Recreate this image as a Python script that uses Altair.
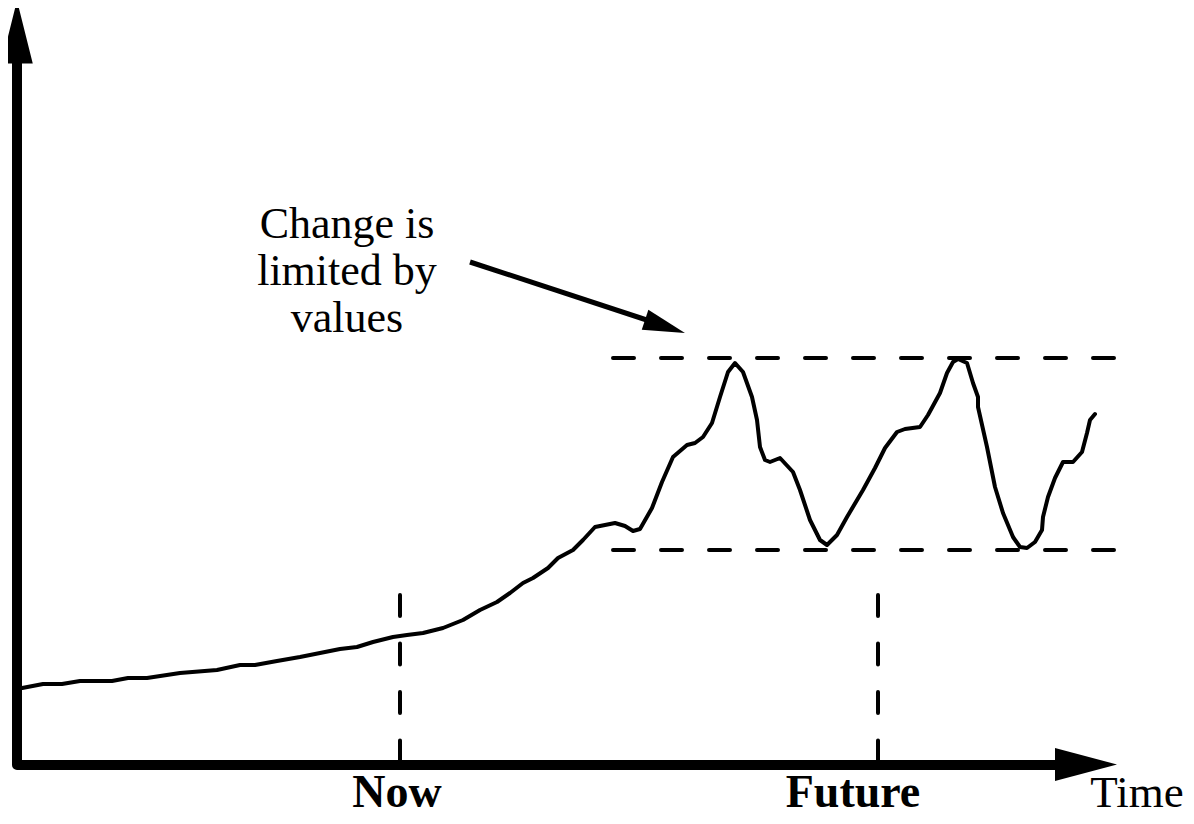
import altair as alt
import pandas as pd

# ---- data (time units / value units from the origin) ----
curve_t = [0, 26, 45, 63, 95, 111, 130, 163, 200, 223, 238, 260, 283, 303, 323, 340,
           356, 376, 390, 406, 426, 446, 463, 480, 493, 506, 516, 531, 541, 556, 566,
           578, 598, 608, 616, 623, 635, 645, 656, 670, 678, 686, 695, 703, 711, 718,
           726, 735, 740, 743, 748, 753, 763, 776, 783, 793, 803, 810, 820, 830, 846,
           858, 868, 880, 888, 903, 911, 923, 930, 936, 941, 950, 956, 961, 961, 970,
           978, 986, 996, 1003, 1010, 1018, 1025, 1026, 1031, 1038, 1046, 1056, 1065,
           1070, 1073, 1078]
curve_v = [76, 81, 81, 84, 84, 87, 87, 92, 95, 100, 100, 104, 108, 112, 116, 118,
           123, 128, 130, 132, 137, 145, 155, 163, 172, 182, 187, 197, 207, 215, 225,
           238, 242, 239, 234, 236, 257, 283, 308, 320, 322, 328, 342, 368, 393, 402,
           393, 368, 345, 318, 305, 303, 307, 293, 275, 245, 225, 220, 230, 248, 275,
           297, 317, 333, 336, 338, 350, 372, 392, 403, 406, 402, 382, 368, 358, 318,
           278, 252, 228, 218, 217, 223, 235, 248, 268, 287, 303, 303, 313,
           332, 345, 351]

limit_values = [407, 215]          # upper and lower value limits
limit_span = [596, 1101]           # time span of the limit lines
marker_times = [383, 861]          # "Now" and "Future"
marker_labels = ["Now", "Future"]
marker_label_t = [380, 836]
marker_label_v = [-42, -42]
marker_height = 170
axis_t_end = 1040
axis_v_end = 705
time_label = "Time"
note_lines = "Change is\nlimited by\nvalues"
note_arrow_t = [453, 648]
note_arrow_v = [503, 439]

XS = alt.Scale(domain=[-9, 1169], nice=False, zero=False)
YS = alt.Scale(domain=[-51, 757], nice=False, zero=False)
FONT = "Liberation Serif"


def X(f="t"):
    return alt.X(f"{f}:Q", scale=XS, axis=None)


def Y(f="v"):
    return alt.Y(f"{f}:Q", scale=YS, axis=None)


curve_df = pd.DataFrame({"t": curve_t, "v": curve_v, "i": range(len(curve_t))})
curve = alt.Chart(curve_df).mark_line(
    color="black", strokeWidth=4, strokeJoin="round", strokeCap="round"
).encode(x=X(), y=Y(), order="i:O")

axes_df = pd.DataFrame({"t": [0, 0, axis_t_end], "v": [axis_v_end, 0, 0], "i": [0, 1, 2]})
axes = alt.Chart(axes_df).mark_line(
    color="black", strokeWidth=10, strokeJoin="round", strokeCap="butt"
).encode(x=X(), y=Y(), order="i:O")

yhead = alt.Chart(pd.DataFrame({"t": [0], "v": [733]})).mark_point(
    shape="M0,-1L0.5,1L-0.5,1Z", size=3969, filled=True, fill="black",
    strokeWidth=0, opacity=1
).encode(x=X(), y=Y())

xhead = alt.Chart(pd.DataFrame({"t": [1069], "v": [0.5]})).mark_point(
    shape="M1,0L-1,0.53L-1,-0.53Z", size=3844, filled=True, fill="black",
    strokeWidth=0, opacity=1
).encode(x=X(), y=Y())

limits_df = pd.DataFrame({"t": [limit_span[0]] * 2, "t2": [limit_span[1]] * 2, "v": limit_values})
limits = alt.Chart(limits_df).mark_rule(
    color="black", strokeWidth=4, strokeDash=[21, 27], strokeCap="round"
).encode(x=X(), x2="t2:Q", y=Y())

markers_df = pd.DataFrame({"t": marker_times, "v": [marker_height] * 2, "v2": [0] * 2})
markers = alt.Chart(markers_df).mark_rule(
    color="black", strokeWidth=4, strokeDash=[21, 27.5], strokeCap="round"
).encode(x=X(), y=Y(), y2="v2:Q")

mlabels_df = pd.DataFrame({"t": marker_label_t, "v": marker_label_v, "label": marker_labels})
mlabels = alt.Chart(mlabels_df).mark_text(
    font=FONT, fontSize=46, fontWeight="bold", align="center", baseline="alphabetic",
    color="black"
).encode(x=X(), y=Y(), text="label:N")

tlabel = alt.Chart(pd.DataFrame({"t": [1120], "v": [-42], "label": [time_label]})).mark_text(
    font=FONT, fontSize=45, align="center", baseline="alphabetic", color="black"
).encode(x=X(), y=Y(), text="label:N")

note = alt.Chart(pd.DataFrame({"t": [330], "v": [527], "label": [note_lines]})).mark_text(
    font=FONT, fontSize=44, align="center", baseline="alphabetic", color="black",
    lineBreak="\n", lineHeight=47
).encode(x=X(), y=Y(), text="label:N")

arrow_df = pd.DataFrame({"t": note_arrow_t, "v": note_arrow_v, "i": [0, 1]})
arrow = alt.Chart(arrow_df).mark_line(color="black", strokeWidth=5).encode(
    x=X(), y=Y(), order="i:O")
arrow_head = alt.Chart(pd.DataFrame({"t": [648], "v": [438.6]})).mark_point(
    shape="M1,0L-1,0.5L-1,-0.5Z", size=1764, angle=18.3, filled=True, fill="black",
    strokeWidth=0, opacity=1
).encode(x=X(), y=Y())

chart = alt.layer(
    limits, markers, curve, axes, yhead, xhead, mlabels, tlabel, note, arrow, arrow_head
).properties(
    width=1178, height=808, padding=0, autosize=alt.AutoSizeParams(type="none"),
    background="white"
).configure_view(stroke=None)

chart.save("out.html", embed_options={"renderer": "svg", "actions": False})
